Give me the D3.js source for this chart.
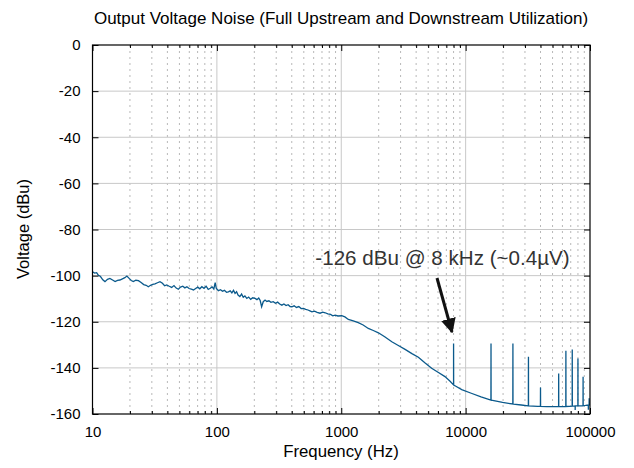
<!DOCTYPE html>
<html>
<head>
<meta charset="utf-8">
<script src="https://cdn.jsdelivr.net/npm/d3@7"></script>
<style>
    body { margin: 0; background: #fff; }
    svg { font-family: "Liberation Sans", Arial, sans-serif; }
</style>
</head>
<body>
<svg width="634" height="468"></svg>
<script>
    // noise floor
    const freqs = [10, 10.4, 10.8, 11.1, 11.6, 12.1, 12.6, 13.2, 13.8, 14.5, 15.2, 15.9, 16.6, 17.4, 18.2, 18.9, 19.8, 20.5, 21.3, 22.3, 23.4, 24.6, 25.8, 27, 28.1, 29.3, 30.5, 31.8, 33.3, 34.9, 36.5, 38, 39.5, 41.4, 43.3, 45.2, 47.1, 49, 51, 53.2, 55.3, 57.4, 59.8, 62.3, 64.9, 67.5, 70.2, 72.9, 75.7, 78.8, 82, 85.2, 88.5, 91.5, 94.5, 96.9, 99, 102.9, 107, 111, 115, 119.5, 123.7, 128, 132, 136, 140, 144, 148, 153, 158, 163, 168, 174, 180, 187, 194, 203, 210, 217, 223, 229, 236, 244, 252, 262, 272, 284, 296, 308, 320, 333, 346, 360, 374, 388, 401, 418, 436, 456, 476, 497, 518, 540, 560, 581, 610, 640, 675, 710, 743, 780, 820, 855, 892, 940, 1009, 1070, 1140, 1250, 1370, 1500, 1650, 1810, 1990, 2250, 2550, 2900, 3260, 3700, 4170, 4700, 5330, 6000, 6820, 7500, 8000, 9300, 11100, 13300, 16100, 19800, 24200, 28000, 31900, 38000, 45000, 52500, 60000, 68000, 76000, 85000, 92000, 100000];
    const dbu = [-98.3, -98.9, -98.7, -99.7, -100.4, -101.8, -102.6, -101.6, -101.2, -101.9, -102.6, -102.1, -101.9, -101.4, -100.9, -100.2, -101.3, -102.1, -102.6, -102.0, -102.2, -103.0, -103.9, -104.2, -104.8, -104.2, -103.8, -103.6, -103.1, -102.6, -103.3, -104.4, -104.0, -104.6, -105.1, -104.3, -105.4, -105.9, -105.0, -104.6, -105.3, -104.8, -105.6, -105.9, -106.2, -105.6, -105.0, -105.7, -104.8, -105.5, -104.6, -106.0, -105.5, -104.9, -105.8, -103.0, -105.6, -106.5, -106.1, -106.8, -106.4, -107.2, -107.0, -106.6, -107.5, -106.4, -107.7, -107.0, -108.4, -109.1, -108.0, -109.4, -108.8, -109.9, -109.3, -110.3, -109.6, -109.9, -110.4, -109.7, -110.8, -113.5, -111.3, -110.6, -111.2, -110.9, -111.6, -111.3, -112.0, -111.5, -112.3, -112.8, -112.3, -113.0, -112.6, -113.4, -113.5, -113.1, -113.8, -113.4, -114.3, -114.2, -114.6, -114.9, -115.3, -115.7, -115.4, -115.9, -116.3, -115.8, -116.1, -116.6, -116.8, -117.4, -117.1, -117.5, -117.4, -117.9, -119.0, -119.6, -120.4, -121.4, -122.9, -123.8, -124.8, -126.6, -128.7, -130.4, -132.0, -133.8, -135.4, -137.8, -140.2, -141.9, -143.8, -145.8, -147.4, -149.4, -151.0, -152.6, -154.0, -155.0, -155.7, -156.1, -156.5, -156.7, -156.8, -156.8, -156.8, -156.7, -156.5, -156.5, -156.3, -156.0];

    // tones sticking out of the floor
    const spikeFreqs = [8000, 16000, 24000, 32000, 40000, 56000, 64000, 72000, 76000, 80000, 88000, 97000, 98500];
    const spikeTops = [-129.4, -129.4, -129.4, -135.2, -148.5, -142.4, -132.6, -132.0, -158.3, -135.9, -143.8, -158.2, -153.2];

    const xTicks = [10, 100, 1000, 10000, 100000];
    const yTicks = [0, -20, -40, -60, -80, -100, -120, -140, -160];

    const pLeft = 92.5, pRight = 590, pTop = 45, pBottom = 414;

    const x = d3.scaleLog().domain([10, 100000]).range([pLeft, pRight]);
    const y = d3.scaleLinear().domain([-160, 0]).range([pBottom, pTop]);

    const svg = d3.select("svg");

    // minor frequencies 20..90, 200..900 etc
    let minor = [];
    xTicks.slice(0, -1).forEach(d => {
        for (let k = 2; k <= 9; k++) minor.push(d * k);
    });

    // grid
    const grid = svg.append("g");
    grid.selectAll("line.minor").data(minor).enter().append("line")
        .attr("x1", d => x(d)).attr("x2", d => x(d))
        .attr("y1", pTop).attr("y2", pBottom)
        .attr("stroke", "#b8b8b8").attr("stroke-width", 1)
        .attr("stroke-dasharray", "2,4");
    grid.selectAll("line.vmaj").data(xTicks.slice(1, -1)).enter().append("line")
        .attr("x1", d => x(d)).attr("x2", d => x(d))
        .attr("y1", pTop).attr("y2", pBottom)
        .attr("stroke", "#c8c8c8").attr("stroke-width", 1);
    grid.selectAll("line.hmaj").data(yTicks.slice(1, -1)).enter().append("line")
        .attr("x1", pLeft).attr("x2", pRight)
        .attr("y1", d => y(d)).attr("y2", d => y(d))
        .attr("stroke", "#c8c8c8").attr("stroke-width", 1);

    // build the series with the spikes merged in
    const floorAt = f => {
        let i = d3.bisectRight(freqs, f) - 1;
        i = Math.max(0, Math.min(i, freqs.length - 2));
        const t = (Math.log(f) - Math.log(freqs[i])) / (Math.log(freqs[i + 1]) - Math.log(freqs[i]));
        return dbu[i] + t * (dbu[i + 1] - dbu[i]);
    };
    let series = freqs.map((f, i) => [f, dbu[i]]);
    spikeFreqs.forEach((f, i) => {
        series.push([f * 0.9985, floorAt(f * 0.9985)]);
        series.push([f, spikeTops[i]]);
        series.push([f * 1.0015, floorAt(f * 1.0015)]);
    });
    series.sort((a, b) => a[0] - b[0]);

    svg.append("path")
        .datum(series)
        .attr("fill", "none")
        .attr("stroke", "#0b5a8c")
        .attr("stroke-width", 1.3)
        .attr("d", d3.line().x(d => x(d[0])).y(d => y(d[1])));

    // axes, ticks pointing inwards
    const fmt = d => String(d);
    svg.append("g")
        .attr("transform", `translate(0,${pBottom})`)
        .call(d3.axisBottom(x).tickValues(xTicks).tickFormat(fmt).tickSize(-6).tickPadding(12.5))
        .call(g => g.select(".domain").remove());
    svg.append("g")
        .attr("transform", `translate(0,${pBottom})`)
        .call(d3.axisBottom(x).tickValues(minor).tickFormat("").tickSize(-3))
        .call(g => g.select(".domain").remove());
    svg.append("g")
        .attr("transform", `translate(0,${pTop})`)
        .call(d3.axisTop(x).tickValues(xTicks).tickFormat("").tickSize(-6))
        .call(g => g.select(".domain").remove());
    svg.append("g")
        .attr("transform", `translate(0,${pTop})`)
        .call(d3.axisTop(x).tickValues(minor).tickFormat("").tickSize(-3))
        .call(g => g.select(".domain").remove());
    svg.append("g")
        .attr("transform", `translate(${pLeft},0)`)
        .call(d3.axisLeft(y).tickValues(yTicks).tickFormat(fmt).tickSize(-6).tickPadding(12))
        .call(g => g.select(".domain").remove());
    svg.append("g")
        .attr("transform", `translate(${pRight},0)`)
        .call(d3.axisRight(y).tickValues(yTicks).tickFormat("").tickSize(-6))
        .call(g => g.select(".domain").remove());

    svg.selectAll(".tick text")
        .attr("font-family", "'Liberation Sans', Arial, sans-serif")
        .attr("font-size", 15).attr("fill", "#000");
    svg.selectAll(".tick line").attr("stroke", "#000");

    svg.append("rect")
        .attr("x", pLeft).attr("y", pTop)
        .attr("width", pRight - pLeft).attr("height", pBottom - pTop)
        .attr("fill", "none").attr("stroke", "#000").attr("stroke-width", 1.2);

    // titles
    svg.append("text")
        .attr("x", 341).attr("y", 24)
        .attr("text-anchor", "middle").attr("font-size", 17)
        .text("Output Voltage Noise (Full Upstream and Downstream Utilization)");
    svg.append("text")
        .attr("x", 341).attr("y", 457)
        .attr("text-anchor", "middle").attr("font-size", 16.8)
        .text("Frequency (Hz)");
    svg.append("text")
        .attr("transform", "translate(29,229) rotate(-90)")
        .attr("text-anchor", "middle").attr("font-size", 16.5)
        .text("Voltage (dBu)");

    // annotation
    svg.append("defs").append("marker")
        .attr("id", "head").attr("viewBox", "0 0 10 10")
        .attr("refX", 9).attr("refY", 5)
        .attr("markerWidth", 5).attr("markerHeight", 5)
        .attr("orient", "auto")
        .append("path").attr("d", "M0,0 L10,5 L0,10 z").attr("fill", "#111");
    svg.append("line")
        .attr("x1", 437).attr("y1", 278).attr("x2", 452).attr("y2", 332)
        .attr("stroke", "#111").attr("stroke-width", 3)
        .attr("marker-end", "url(#head)");
    svg.append("text")
        .attr("x", 442.5).attr("y", 265)
        .attr("text-anchor", "middle").attr("font-size", 20.6)
        .attr("fill", "#333")
        .text("-126 dBu @ 8 kHz (~0.4µV)");
</script>
</body>
</html>
